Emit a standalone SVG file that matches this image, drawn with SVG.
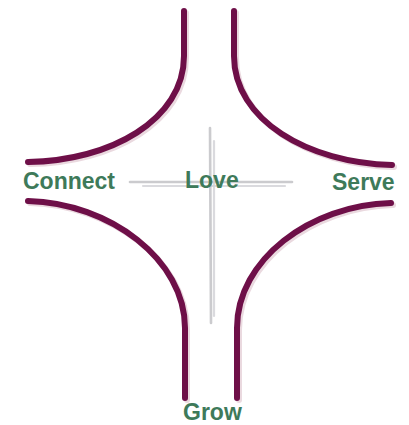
<svg xmlns="http://www.w3.org/2000/svg" width="409" height="425" viewBox="0 0 409 425">
<style>
.arc{fill:none;stroke:#6e0f48;stroke-width:6;stroke-linecap:round}
.sh{fill:none;stroke:#ead9df;stroke-width:6;stroke-linecap:round}
.gr{stroke:#c2c2c6;stroke-width:2.6;stroke-linecap:round;opacity:0.85}
.gr2{stroke:#d2d2d6;stroke-width:2.2;stroke-linecap:round;opacity:0.8}
.lbl{font-family:"Liberation Sans",Arial,sans-serif;font-weight:bold;font-size:23px;fill:#3e7a5a}
</style>
<rect width="409" height="425" fill="#ffffff"/>
<g id="cross">
<line class="gr" x1="130" y1="182" x2="292" y2="182"/>
<line class="gr2" x1="143" y1="186" x2="285" y2="186"/>
<line class="gr" x1="210" y1="128" x2="211" y2="323"/>
<line class="gr2" x1="214" y1="141" x2="214" y2="316"/>
</g>
<g id="connectors">
<path class="sh" d="M186,13 L186,58 C186,122 112,163 30,164"/>
<path class="sh" d="M236,13 L236,58 C236,122 310,165 394,167"/>
<path class="sh" d="M30,203 C112,205 187,262 187,330 L187,400"/>
<path class="sh" d="M393,205 C312,207 239,262 239,330 L239,400"/>
<path class="arc" d="M184,11 L184,56 C184,120 110,161 28,162"/>
<path class="arc" d="M234,11 L234,56 C234,120 308,163 392,165"/>
<path class="arc" d="M28,201 C110,203 185,260 185,328 L185,398"/>
<path class="arc" d="M391,203 C310,205 237,260 237,328 L237,398"/>
</g>
<g id="love"><text class="lbl" x="185" y="188">Love</text></g>
<g id="connect"><text class="lbl" x="23" y="189">Connect</text></g>
<g id="serve"><text class="lbl" x="332" y="190">Serve</text></g>
<g id="grow"><text class="lbl" x="183" y="420">Grow</text></g>
</svg>
